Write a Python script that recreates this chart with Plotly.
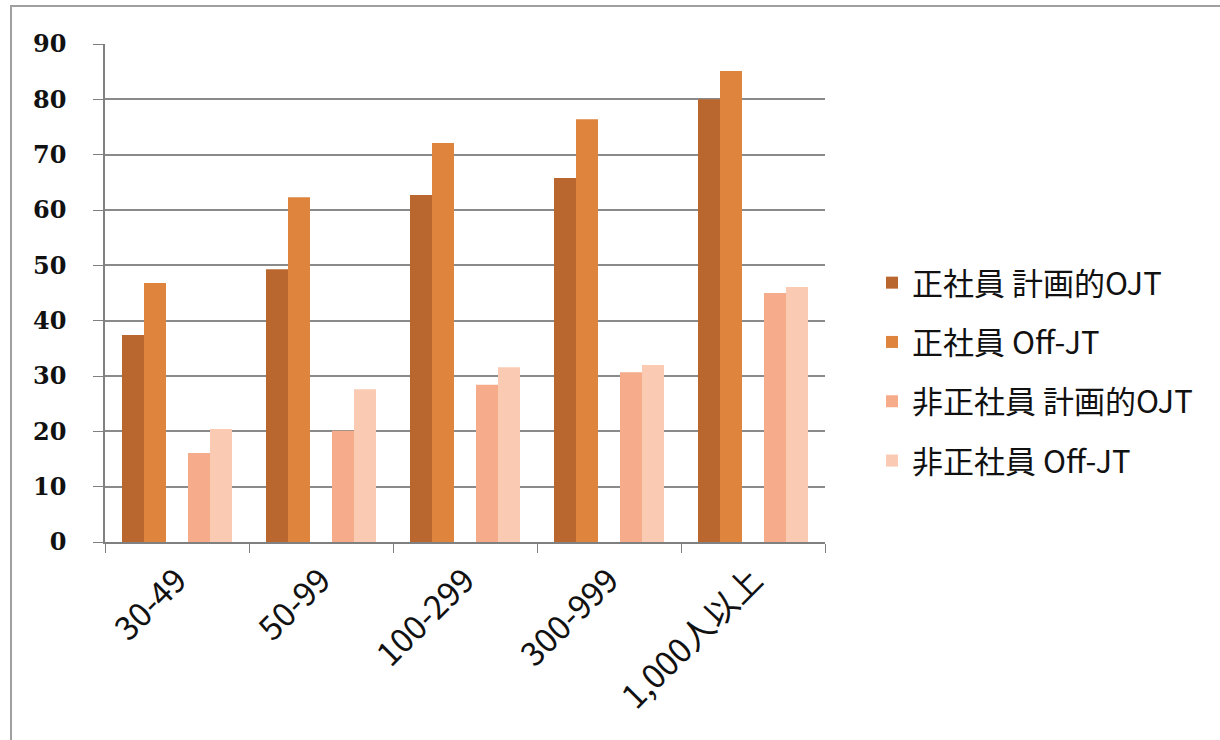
import plotly.graph_objects as go

categories = ["30-49", "50-99", "100-299", "300-999", "1,000人以上"]
series_names = ["正社員 計画的OJT", "正社員 Off-JT", "非正社員 計画的OJT", "非正社員 Off-JT"]
seishain_ojt = [37.4, 49.3, 62.7, 65.8, 80.0]
seishain_offjt = [46.8, 62.3, 72.1, 76.4, 85.1]
hiseishain_ojt = [16.1, 20.1, 28.4, 30.7, 45.0]
hiseishain_offjt = [20.4, 27.6, 31.6, 32.0, 46.1]
colors = ["#BA672F", "#DE843C", "#F6AB8A", "#FACAB3"]
y_ticks = [0, 10, 20, 30, 40, 50, 60, 70, 80, 90]

fig = go.Figure()
fig.add_trace(go.Bar(x=categories, y=seishain_ojt, name=series_names[0],
                     marker=dict(color=colors[0], line=dict(width=0)), legendgroup="a"))
fig.add_trace(go.Bar(x=categories, y=seishain_offjt, name=series_names[1],
                     marker=dict(color=colors[1], line=dict(width=0)), legendgroup="b"))
fig.add_trace(go.Bar(x=categories, y=[None] * len(categories), name="",
                     showlegend=False, hoverinfo="skip"))
fig.add_trace(go.Bar(x=categories, y=hiseishain_ojt, name=series_names[2],
                     marker=dict(color=colors[2], line=dict(width=0)), legendgroup="c"))
fig.add_trace(go.Bar(x=categories, y=hiseishain_offjt, name=series_names[3],
                     marker=dict(color=colors[3], line=dict(width=0)), legendgroup="d"))

L, R, T, B = 105, 1220 - 825, 44, 740 - 542
W, H = 1220 - L - R, 740 - T - B

def px_x(p):
    return (p - L) / W

def px_y(p):
    return (740 - B - p) / H

fig.update_layout(
    width=1220, height=740,
    margin=dict(l=L, r=R, t=T, b=B),
    paper_bgcolor="white", plot_bgcolor="white",
    barmode="group", bargap=0.236, bargroupgap=0,
    showlegend=True,
    legend=dict(x=px_x(872), y=px_y(372), xanchor="left", yanchor="middle",
                font=dict(family="Noto Sans CJK JP", size=31, color="#111"),
                traceorder="grouped", tracegroupgap=16,
                itemwidth=30, bgcolor="rgba(0,0,0,0)"),
    xaxis=dict(showline=True, linecolor="#808080", linewidth=1.5,
               ticks="outside", tickson="boundaries", ticklen=9, tickcolor="#808080",
               tickangle=-45, ticklabelstandoff=4,
               tickfont=dict(family="Noto Sans CJK JP", size=33, color="#111"),
               showgrid=False),
    yaxis=dict(range=[0, 90], tickvals=y_ticks, showline=True, linecolor="#808080",
               linewidth=1.5, ticks="outside", ticklen=10, tickcolor="#808080",
               ticklabelstandoff=22,
               showgrid=True, gridcolor="#8A8A8A", gridwidth=1.5, zeroline=False,
               tickfont=dict(family="DejaVu Serif", size=24, color="#111", weight="bold")),
    shapes=[dict(type="rect", xref="paper", yref="paper",
                 x0=px_x(11), x1=px_x(1230), y0=px_y(750), y1=px_y(6),
                 line=dict(color="#A0A0A0", width=2), fillcolor="rgba(0,0,0,0)",
                 layer="below")],
)

fig.write_html("out.html")
